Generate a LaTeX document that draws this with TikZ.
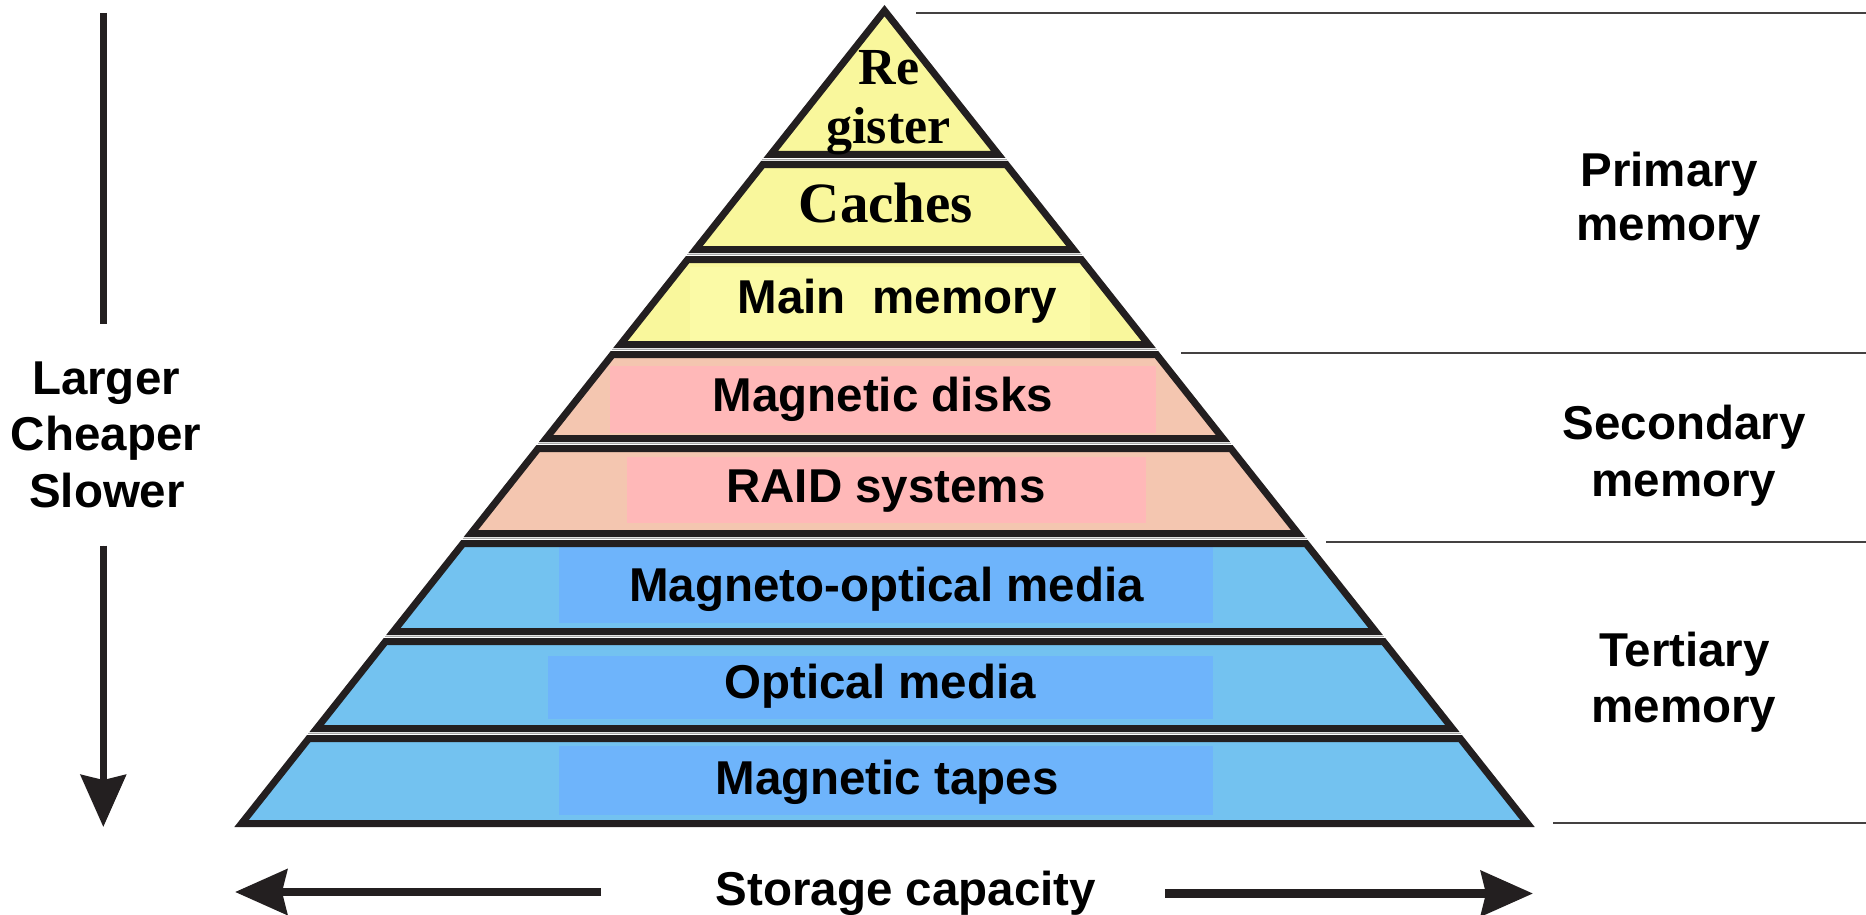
\documentclass[tikz,border=0pt]{standalone}
\usepackage{fontspec}
\setmainfont{Liberation Sans}
\newfontfamily\timesfam{Liberation Serif}
\usetikzlibrary{arrows.meta}

\definecolor{ink}{HTML}{231F20}
\definecolor{ylwout}{HTML}{F9F79C}
\definecolor{ylwin}{HTML}{FBFAA6}
\definecolor{peach}{HTML}{F4C6B0}
\definecolor{pinkin}{HTML}{FFB8B8}
\definecolor{blueout}{HTML}{73C2F0}
\definecolor{bluein}{HTML}{6EB4FB}
\definecolor{gapgray}{HTML}{A8A8A8}

% One band of the pyramid between outer top edge #1 and outer bottom edge #2;
% the apex sits at (884.5,5) and the flanks widen by 0.791 per unit of depth.
% The stroke is 7 wide, so the path runs 3.5 inside the outer edges.
\newcommand\band[3]{%
  \path[#3] ({884.5-0.791*(#1-1.5)+4.46},{#1+3.5}) -- ({884.5+0.791*(#1-1.5)-4.46},{#1+3.5})
    -- ({884.5+0.791*(#2-8.5)-4.46},{#2-3.5}) -- ({884.5-0.791*(#2-8.5)+4.46},{#2-3.5}) -- cycle;}
\newcommand\apexband[1]{%
  \path[#1] (884.5,10.64) -- ({884.5+0.791*149.5-4.46},154.5) -- ({884.5-0.791*149.5+4.46},154.5) -- cycle;}
\newcommand\gapline[1]{%
  \draw[gapline] ({884.5-0.791*(#1-5)},#1) -- ({884.5+0.791*(#1-5)},#1);}

\begin{document}
\begin{tikzpicture}[x=1pt,y=-1pt,
  layer/.style={draw=ink,line width=7pt,line join=miter},
  gapline/.style={draw=gapgray,line width=1.5pt},
  rule/.style={draw=ink!85,line width=2pt},
  lab/.style={inner sep=0pt,anchor=base,font=\fontsize{47.5}{57}\selectfont\bfseries},
  serifsmall/.style={inner sep=0pt,anchor=base,font=\timesfam\fontsize{52}{57}\selectfont\bfseries},
  seriflarge/.style={inner sep=0pt,anchor=base,font=\timesfam\fontsize{57}{60}\selectfont\bfseries},
  shaft/.style={draw=ink,line width=#1,line cap=butt},
  bigtip/.style={-{Stealth[length=52pt,width=45pt,inset=5pt]}}]
\useasboundingbox (0,0) rectangle (1866,915);

% fills of the nine bands
\apexband{fill=ylwout}
\band{161}{253}{fill=ylwout}
\band{256}{348}{fill=ylwout}
\band{351}{442}{fill=peach}
\band{445}{537}{fill=peach}
\band{540}{635}{fill=blueout}
\band{638}{732}{fill=blueout}
\band{735}{827}{fill=blueout}

% lighter panels behind the labels
\fill[ylwin]  (690,267) rectangle (1090,344);
\fill[pinkin] (610,366) rectangle (1156,433);
\fill[pinkin] (627,457) rectangle (1146,523);
\fill[bluein] (559,545) rectangle (1213,623);
\fill[bluein] (548,656) rectangle (1213,719);
\fill[bluein] (559,746) rectangle (1213,815);

% outlines of the bands
\apexband{layer}
\band{161}{253}{layer}
\band{256}{348}{layer}
\band{351}{442}{layer}
\band{445}{537}{layer}
\band{540}{635}{layer}
\band{638}{732}{layer}
\band{735}{827}{layer}

% thin separators between the bands
\gapline{159.5}
\gapline{254.5}
\gapline{349.5}
\gapline{443.5}
\gapline{538.5}
\gapline{636.5}
\gapline{733.5}

% band labels
\node[serifsmall] (re)     at (889,85)    {Re};
\node[serifsmall] (gister) at (888.5,143) {gister};
\node[seriflarge] (caches) at (886,222.7) {Caches};
\node[lab] (mainmem)  at (897.5,313) {Main\ \ memory};
\node[lab] (disks)    at (883,411.7) {Magnetic disks};
\node[lab] (raid)     at (886,502)   {RAID systems};
\node[lab] (mo)       at (886.5,601) {Magneto-optical media};
\node[lab] (optical)  at (880,698)   {Optical media};
\node[lab] (tapes)    at (887,794)   {Magnetic tapes};

% level rules and level names on the right
\draw[rule] (916,13.5)   -- (1866,13.5);
\draw[rule] (1181,353)   -- (1866,353);
\draw[rule] (1326,542)   -- (1866,542);
\draw[rule] (1553,823)   -- (1866,823);
\node[lab] (prim1) at (1669,186)   {Primary};
\node[lab] (prim2) at (1669,240)   {memory};
\node[lab] (sec1)  at (1684,439)   {Secondary};
\node[lab] (sec2)  at (1684,496)   {memory};
\node[lab] (ter1)  at (1684.5,666) {Tertiary};
\node[lab] (ter2)  at (1684,722)   {memory};

% cost / speed axis on the left
\node[lab] (larger)  at (106,394) {Larger};
\node[lab] (cheaper) at (106,450) {Cheaper};
\node[lab] (slower)  at (107,507) {Slower};
\coordinate (vtop) at (103.3,13);
\coordinate (vup)  at (103.3,324);
\coordinate (vlow) at (103.3,545.5);
\coordinate (vend) at (103.3,827);
\draw[shaft=7.5pt] (vtop) -- (vup);
\draw[shaft=7.5pt,bigtip,fill=ink] (vlow) -- (vend);

% capacity axis at the bottom
\node[lab] (capacity) at (906,905) {Storage capacity};
\coordinate (lstart) at (601,892);
\coordinate (lend)   at (235,892);
\coordinate (rstart) at (1165,893.5);
\coordinate (rend)   at (1533,893.5);
\draw[shaft=8.5pt,bigtip,fill=ink] (lstart) -- (lend);
\draw[shaft=8.5pt,bigtip,fill=ink] (rstart) -- (rend);
\end{tikzpicture}
\end{document}
